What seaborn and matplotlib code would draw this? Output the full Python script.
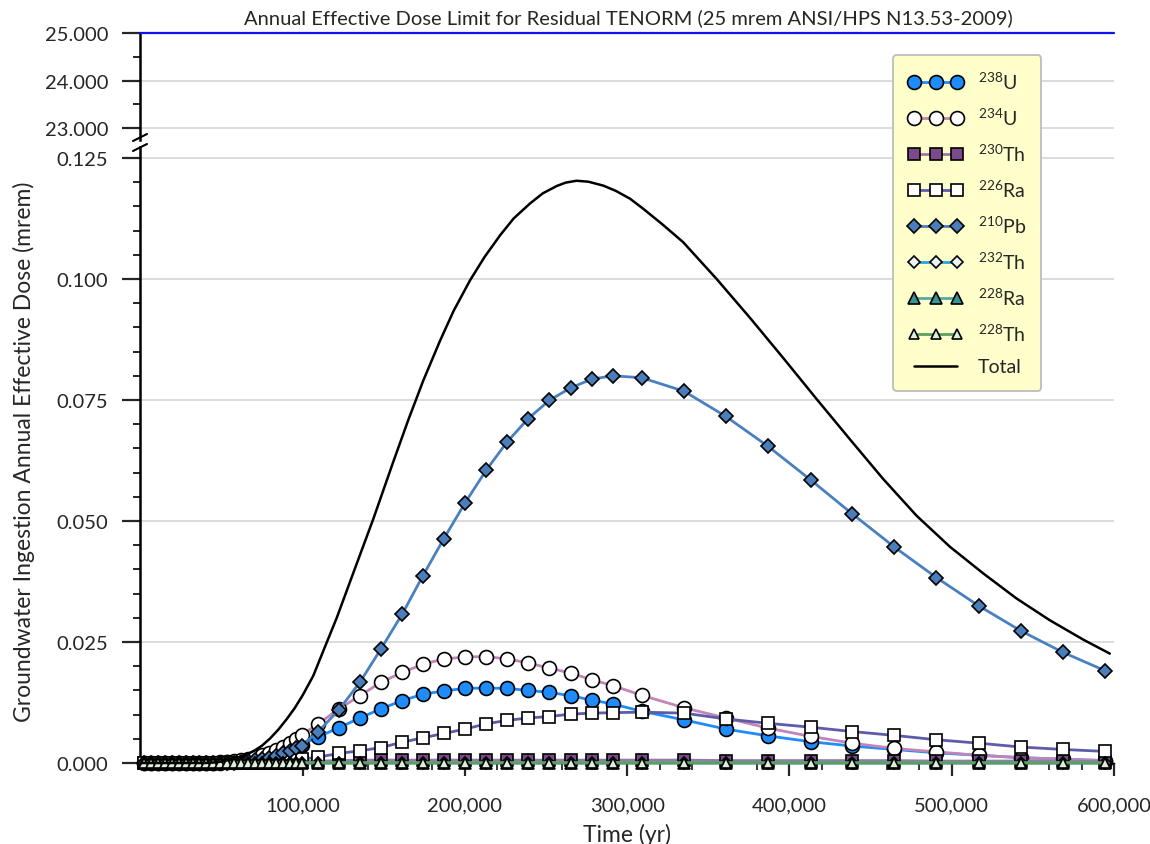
import matplotlib
matplotlib.use("Agg")
import matplotlib.pyplot as plt
import seaborn as sns
import pandas as pd
from matplotlib.ticker import FixedLocator, MultipleLocator, FuncFormatter
from matplotlib.lines import Line2D

# ---------------- data ----------------
time_yr = [2000, 6300, 10600, 14900, 19200, 23500, 27800, 32100, 36400, 40700,
           45000, 49300, 53600, 57900, 62200, 66500, 70800, 75100, 79400, 83700,
           88000, 92300, 96000, 99400, 109600, 122400, 135300, 148300, 161400, 174100,
           186900, 200000, 213100, 225900, 238800, 251900, 265100, 278100, 291000, 308900,
           335100, 360800, 386900, 413000, 438600, 464700, 490600, 516500, 542600, 568300,
           594300]

u238 = [0, 0, 0, 0, 0, 0, 0, 0, 0, 0,
        0.0000, 0.0001, 0.0002, 0.0003, 0.0004, 0.0005, 0.0007, 0.0010, 0.0013, 0.0017,
        0.0022, 0.0027, 0.0032, 0.0038, 0.0054, 0.0073, 0.0093, 0.0112, 0.0129, 0.0142,
        0.0149, 0.0154, 0.0155, 0.0154, 0.0150, 0.0146, 0.0139, 0.0130, 0.0122, 0.0107,
        0.0089, 0.0070, 0.0056, 0.0044, 0.0035, 0.0028, 0.0021, 0.0016, 0.0011, 0.0008,
        0.0005]

u234 = [0, 0, 0, 0, 0, 0, 0, 0, 0, 0,
        0.0001, 0.0002, 0.0003, 0.0005, 0.0007, 0.0009, 0.0012, 0.0016, 0.0021, 0.0027,
        0.0034, 0.0042, 0.0050, 0.0058, 0.0081, 0.0112, 0.0139, 0.0167, 0.0187, 0.0204,
        0.0215, 0.0219, 0.0220, 0.0215, 0.0207, 0.0196, 0.0186, 0.0172, 0.0160, 0.0140,
        0.0114, 0.0093, 0.0072, 0.0055, 0.0041, 0.0030, 0.0023, 0.0016, 0.0011, 0.0008,
        0.0005]

th230 = [0, 0, 0, 0, 0, 0, 0, 0, 0, 0,
         0, 0, 0, 0, 0, 0, 0, 0, 0, 0,
         0.0000, 0.0001, 0.0002, 0.0003, 0.0004, 0.0005, 0.0006, 0.0006, 0.0006, 0.0006,
         0.0006, 0.0006, 0.0006, 0.0006, 0.0006, 0.0006, 0.0006, 0.0006, 0.0006, 0.0006,
         0.0006, 0.0005, 0.0005, 0.0005, 0.0005, 0.0005, 0.0004, 0.0004, 0.0004, 0.0004,
         0.0003]

ra226 = [0, 0, 0, 0, 0, 0, 0, 0, 0, 0,
         0, 0, 0, 0, 0.0001, 0.0001, 0.0001, 0.0002, 0.0002, 0.0003,
         0.0004, 0.0005, 0.0006, 0.0008, 0.0012, 0.0020, 0.0025, 0.0032, 0.0043, 0.0052,
         0.0061, 0.0070, 0.0081, 0.0088, 0.0093, 0.0096, 0.0101, 0.0103, 0.0104, 0.0105,
         0.0103, 0.0091, 0.0082, 0.0074, 0.0065, 0.0057, 0.0048, 0.0041, 0.0033, 0.0028,
         0.0024]

pb210 = [0, 0, 0, 0, 0, 0, 0, 0, 0, 0,
         0, 0, 0.0001, 0.0001, 0.0002, 0.0004, 0.0006, 0.0008, 0.0011, 0.0015,
         0.0020, 0.0025, 0.0030, 0.0036, 0.0065, 0.0110, 0.0167, 0.0236, 0.0308, 0.0387,
         0.0463, 0.0537, 0.0605, 0.0663, 0.0711, 0.0749, 0.0775, 0.0793, 0.0800, 0.0796,
         0.0768, 0.0716, 0.0654, 0.0585, 0.0515, 0.0446, 0.0383, 0.0325, 0.0273, 0.0229,
         0.0191]

th232 = [0, 0, 0, 0, 0, 0, 0, 0, 0, 0,
         0, 0, 0, 0, 0, 0, 0, 0, 0, 0,
         0.00001, 0.00001, 0.00001, 0.00001, 0.00002, 0.00002, 0.00002, 0.00002, 0.00002, 0.00002,
         0.00002, 0.00002, 0.00002, 0.00002, 0.00002, 0.00002, 0.00002, 0.00002, 0.00002, 0.00002,
         0.00002, 0.00002, 0.00002, 0.00002, 0.00002, 0.00002, 0.00002, 0.00002, 0.00002, 0.00002,
         0.00002]

ra228 = [0, 0, 0, 0, 0, 0, 0, 0, 0, 0,
         0, 0, 0, 0, 0, 0, 0, 0, 0, 0,
         0.00002, 0.00003, 0.00004, 0.00005, 0.00005, 0.00005, 0.00005, 0.00005, 0.00005, 0.00005,
         0.00005, 0.00005, 0.00005, 0.00005, 0.00005, 0.00005, 0.00005, 0.00005, 0.00005, 0.00005,
         0.00005, 0.00005, 0.00005, 0.00005, 0.00004, 0.00004, 0.00004, 0.00004, 0.00004, 0.00004,
         0.00004]

th228 = [0, 0, 0, 0, 0, 0, 0, 0, 0, 0,
         0, 0, 0, 0, 0, 0, 0, 0, 0, 0,
         0.00001, 0.00002, 0.00002, 0.00003, 0.00003, 0.00003, 0.00003, 0.00003, 0.00003, 0.00003,
         0.00003, 0.00003, 0.00003, 0.00003, 0.00003, 0.00003, 0.00003, 0.00003, 0.00003, 0.00003,
         0.00003, 0.00003, 0.00003, 0.00003, 0.00003, 0.00003, 0.00003, 0.00003, 0.00003, 0.00003,
         0.00003]

# Total dose (line without markers)
total_time = [0, 40000, 45000, 50000, 55000, 60000, 65000, 70000, 75000, 80000,
              85000, 90000, 95000, 100000, 106500, 113000, 121000, 132000, 143500, 155800,
              165000, 174300, 184600, 193000, 203100, 212000, 221600, 230000, 240100, 248000,
              256500, 262000, 268800, 276000, 285200, 293000, 301700, 309900, 322000, 334500,
              355100, 375600, 396100, 416700, 437200, 457700, 478300, 498800, 519300, 539900,
              560400, 581000, 597400]
total_dose = [0, 0, 0.0001, 0.0003, 0.0007, 0.0011, 0.0017, 0.0025, 0.0036, 0.0051,
              0.0069, 0.0090, 0.0113, 0.0140, 0.0180, 0.0234, 0.0300, 0.0400, 0.0504, 0.0622,
              0.0708, 0.0790, 0.0872, 0.0934, 0.0997, 0.1045, 0.1090, 0.1125, 0.1156, 0.1177,
              0.1192, 0.1199, 0.1203, 0.1201, 0.1193, 0.1182, 0.1166, 0.1145, 0.1112, 0.1076,
              0.1000, 0.0920, 0.0837, 0.0752, 0.0669, 0.0587, 0.0511, 0.0447, 0.0392, 0.0340,
              0.0295, 0.0255, 0.0226]

dose_limit = 25.0
x_ticks = [100000, 200000, 300000, 400000, 500000, 600000]
y_ticks_low = [0.0, 0.025, 0.05, 0.075, 0.1, 0.125]
y_ticks_high = [23.0, 24.0, 25.0]

series_labels = ["$^{238}$U", "$^{234}$U", "$^{230}$Th", "$^{226}$Ra", "$^{210}$Pb",
                 "$^{232}$Th", "$^{228}$Ra", "$^{228}$Th", "Total"]

df = pd.DataFrame({"time": time_yr, "u238": u238, "u234": u234, "th230": th230,
                   "ra226": ra226, "pb210": pb210, "th232": th232, "ra228": ra228,
                   "th228": th228})
df_total = pd.DataFrame({"time": total_time, "total": total_dose})

# ---------------- style ----------------
sns.set_style("white")
plt.rcParams["font.family"] = ["Lato", "DejaVu Sans"]
plt.rcParams["mathtext.fontset"] = "custom"
plt.rcParams["mathtext.rm"] = "Lato"
plt.rcParams["mathtext.it"] = "Lato:italic"
plt.rcParams["mathtext.bf"] = "Lato:bold"

styles = [
    ("u238", dict(color="#1E8CFA", marker="o", markersize=10, markerfacecolor="#1E8CFA", lw=2.0)),
    ("u234", dict(color="#C285B9", marker="o", markersize=10, markerfacecolor="white", lw=2.0)),
    ("th230", dict(color="#9A78A6", marker="s", markersize=9, markerfacecolor="#7A4A8A", lw=2.0)),
    ("ra226", dict(color="#5E5CA8", marker="s", markersize=9, markerfacecolor="white", lw=2.0)),
    ("pb210", dict(color="#4A80C0", marker="D", markersize=7.5, markerfacecolor="#4A7EBB", lw=2.0)),
    ("th232", dict(color="#22A6DC", marker="D", markersize=6, markerfacecolor="#E8F6FA", lw=2.0)),
    ("ra228", dict(color="#58A8A4", marker="^", markersize=9, markerfacecolor="#3A9494", lw=2.0)),
    ("th228", dict(color="#5E9E60", marker="^", markersize=7, markerfacecolor="#DDEEDD", lw=2.0)),
]

fig = plt.figure(figsize=(11.5, 8.45), dpi=100)
ax_top = fig.add_axes([0.1221, 0.8331, 0.8466, 0.1267])
ax = fig.add_axes([0.1221, 0.09586, 0.8466, 0.7290])

for (col, st), lab in zip(styles, series_labels[:-1]):
    kw = dict(st)
    lw = kw.pop("lw")
    kw["markeredgecolor"] = "black"
    kw["markeredgewidth"] = 1.2
    sns.lineplot(data=df, x="time", y=col, ax=ax, label=lab, linewidth=lw,
                 clip_on=False, zorder=4, **kw)
sns.lineplot(data=df_total, x="time", y="total", ax=ax, label=series_labels[-1],
             color="black", linewidth=1.8, clip_on=False, zorder=4)

handles, labels = ax.get_legend_handles_labels()
if ax.get_legend() is not None:
    ax.get_legend().remove()

# lower axes
ax.set_xlim(0, 600000)
ax.set_ylim(0, 0.12727)
ax.yaxis.set_major_locator(FixedLocator(y_ticks_low))
ax.yaxis.set_minor_locator(MultipleLocator(0.005))
ax.yaxis.set_major_formatter(FuncFormatter(lambda v, p: f"{v:.3f}"))
ax.xaxis.set_major_locator(FixedLocator(x_ticks))
ax.xaxis.set_minor_locator(MultipleLocator(20000))
ax.xaxis.set_major_formatter(FuncFormatter(lambda v, p: f"{int(v):,}"))
ax.grid(axis="y", which="major", color="#D9D9D9", lw=1.3, zorder=0)
ax.set_axisbelow(True)
for s in ["top", "right"]:
    ax.spines[s].set_visible(False)
ax.spines["left"].set_linewidth(1.8)
ax.spines["bottom"].set_linewidth(1.0)
ax.spines["left"].set_color("black")
ax.spines["bottom"].set_color("black")
ax.tick_params(axis="y", which="major", direction="out", length=13, width=1.6,
               labelsize=14.5, pad=10, left=True)
ax.tick_params(axis="y", which="minor", direction="out", length=5, width=1.4, left=True)
ax.tick_params(axis="x", which="major", direction="out", length=9, width=1.6,
               labelsize=14.5, pad=15, bottom=True)
ax.tick_params(axis="x", which="minor", direction="out", length=5, width=1.3, bottom=True)
ax.set_xlabel("Time (yr)", fontsize=16.5, labelpad=7)
ax.set_ylabel("")

# upper axes (broken segment)
ax_top.set_xlim(0, 600000)
ax_top.set_ylim(22.75, 25.0)
ax_top.axhline(dose_limit, color="#1010F0", lw=1.6, clip_on=False, zorder=5)
ax_top.yaxis.set_major_locator(FixedLocator(y_ticks_high))
ax_top.yaxis.set_minor_locator(MultipleLocator(0.5))
ax_top.yaxis.set_major_formatter(FuncFormatter(lambda v, p: f"{v:.3f}"))
ax_top.grid(axis="y", which="major", color="#D9D9D9", lw=1.3, zorder=0)
ax_top.set_axisbelow(True)
for s in ["top", "right", "bottom"]:
    ax_top.spines[s].set_visible(False)
ax_top.spines["left"].set_linewidth(1.8)
ax_top.spines["left"].set_color("black")
ax_top.set_xticks([])
ax_top.tick_params(axis="y", which="major", direction="out", length=13, width=1.6,
                   labelsize=14.5, pad=10, left=True)
ax_top.tick_params(axis="y", which="minor", direction="out", length=5, width=1.4, left=True)

# break marks
W, H = 1150.0, 845.0
for (x0, y0, x1, y1) in [(133, 142, 147, 135), (133, 152, 147, 145)]:
    fig.add_artist(Line2D([x0 / W, x1 / W], [1 - y0 / H, 1 - y1 / H],
                          color="black", lw=1.5, transform=fig.transFigure))

# titles
fig.text(628 / W, 1 - 18 / H, "Annual Effective Dose Limit for Residual TENORM (25 mrem ANSI/HPS N13.53-2009)",
         ha="center", va="center", fontsize=14.5)
fig.text(24 / W, 1 - 452 / H, "Groundwater Ingestion Annual Effective Dose (mrem)",
         rotation=90, ha="center", va="center", fontsize=16.5)

leg = fig.legend(handles, labels, loc="upper left", bbox_to_anchor=(893 / W, 1 - 56 / H),
                 bbox_transform=fig.transFigure, numpoints=3, handlelength=2.8,
                 handletextpad=0.75, labelspacing=0.76, borderpad=0.8, fontsize=14,
                 fancybox=True, frameon=True, borderaxespad=0)
fr = leg.get_frame()
fr.set_facecolor("#FFFFCC")
fr.set_edgecolor("#BDBDBD")
fr.set_linewidth(1.3)
fr.set_alpha(1.0)

fig.savefig("out.png", dpi=100)
